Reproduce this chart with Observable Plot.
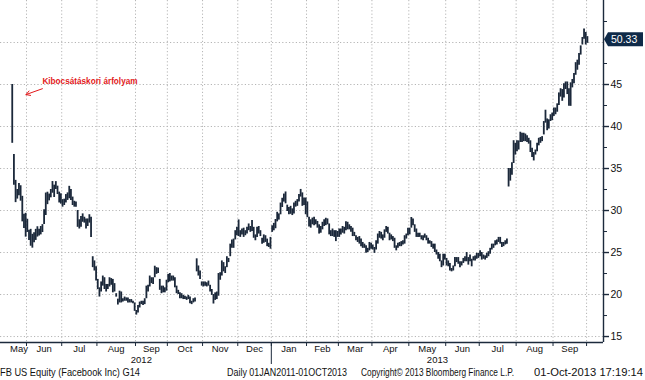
<!DOCTYPE html>
<html><head><meta charset="utf-8">
<script src="https://cdn.jsdelivr.net/npm/d3@7"></script>
<script src="https://cdn.jsdelivr.net/npm/@observablehq/plot@0.6"></script>
<style>
body{margin:0;background:#fff;width:645px;height:380px;overflow:hidden;font-family:"Liberation Sans",Arial,sans-serif}
#footer{position:relative;height:16px;font-size:10.5px;color:#111}
#footer span{position:absolute;top:2px;white-space:nowrap;transform-origin:0 0}
</style></head><body>
<div id="chart"></div>
<div id="footer">
<span data-w="140" style="left:0">FB US Equity (Facebook Inc) G14</span>
<span data-w="120" style="left:227px">Daily 01JAN2011-01OCT2013</span>
<span data-w="153" style="left:361px">Copyright© 2013 Bloomberg Finance L.P.</span>
<span data-w="109" style="left:534px">01-Oct-2013 17:19:14</span>
</div>
<script>
// Months shown and number of trading days in each (first = 18 May 2012 IPO)
const monthLabels = ["May","Jun","Jul","Aug","Sep","Oct","Nov","Dec","Jan","Feb","Mar","Apr","May","Jun","Jul","Aug","Sep",""];
const monthDays   = [9,21,21,23,19,21,21,20,21,19,20,22,22,20,22,22,20,1];
const yearLabels  = ["2012","2013"];
const yearMonths  = [8,10]; // months of 2012 shown, months of 2013 shown
const yTicks = [15,20,25,30,35,40,45];
const yGrid = [15,20,25,30,35,40,45,50];
const yMinor = [17.5,22.5,27.5,32.5,37.5,42.5,47.5,52.5];
const lastPrice = 50.33;
const annotationText = "Kibocsátáskori árfolyam";

// daily lows / highs (USD), one per trading day
const lows = [
 38.00,33.00,30.94,31.36,31.77,31.11,28.65,27.86,26.83,
 27.39,26.44,25.75,25.52,26.15,26.44,26.84,26.96,27.10,27.38,28.35,29.41,30.70,31.15,31.51,32.06,31.55,32.50,31.90,30.90,30.76,
 30.40,30.60,30.90,31.20,31.40,31.20,30.60,30.40,30.40,28.00,27.80,28.00,28.60,28.50,27.80,28.10,28.50,26.80,23.20,22.80,21.60,
 20.60,19.70,20.30,21.00,20.60,20.30,20.60,20.90,21.10,20.20,20.30,19.69,18.75,19.00,19.00,19.10,19.20,19.20,19.00,19.00,19.00,18.90,18.00,
 17.55,17.80,18.40,18.80,18.70,18.80,19.50,20.30,20.90,21.30,21.20,22.00,22.40,22.50,20.50,20.10,20.20,20.20,20.40,
 21.40,21.50,21.60,21.60,20.80,20.10,20.00,19.50,19.50,19.40,19.40,19.30,19.40,18.90,18.80,19.00,19.10,22.70,22.20,21.80,21.00,
 20.90,21.00,20.90,21.00,20.30,19.90,18.87,19.30,19.40,19.80,21.70,22.20,22.70,22.50,23.20,23.80,24.50,25.50,25.50,26.50,27.00,
 26.90,26.80,27.10,26.80,27.00,27.20,27.60,27.40,27.50,26.70,26.40,26.80,27.20,26.90,26.00,26.10,26.20,25.70,25.60,25.40,
 27.40,27.59,27.83,28.65,28.86,29.49,30.36,31.00,30.80,29.88,29.50,29.55,29.40,29.60,30.40,30.50,31.00,31.60,30.50,30.60,29.50,
 29.15,28.05,27.90,28.30,28.20,28.30,27.90,27.20,27.30,27.70,28.10,28.20,28.30,27.10,26.90,26.90,26.80,26.30,26.80,
 26.80,27.10,27.30,27.20,27.60,27.70,27.70,27.40,26.90,26.90,26.40,26.20,26.00,25.70,25.50,25.50,24.90,25.00,25.20,25.40,
 25.30,24.90,25.30,26.00,26.70,26.60,26.40,26.70,27.40,27.20,26.40,26.50,26.30,25.50,25.20,25.50,25.70,25.70,25.90,26.00,26.60,27.00,
 27.10,27.90,28.20,27.40,26.80,26.80,26.80,26.50,26.40,26.70,26.40,26.00,26.00,25.60,25.40,25.00,24.70,24.20,23.90,23.20,23.40,24.10,
 23.40,23.30,22.80,22.70,22.80,23.30,23.80,23.60,23.20,23.40,23.70,23.90,23.90,23.50,23.90,23.30,24.00,24.00,24.20,24.30,
 24.50,24.10,24.20,24.10,24.30,24.50,24.80,25.30,25.50,25.80,25.90,26.20,26.00,25.60,25.70,25.90,26.00,32.80,33.50,34.20,35.60,36.60,
 37.00,37.20,38.10,38.10,38.20,38.20,38.10,37.90,36.90,36.30,35.90,36.60,37.00,37.70,38.00,38.20,39.00,40.40,39.50,39.70,40.60,40.70,
 41.20,41.40,41.70,42.50,43.50,43.00,43.40,44.40,43.80,42.40,42.40,44.60,45.10,46.10,46.70,47.30,48.50,49.70,50.40,49.70,
 49.90
];
const highs = [
 45.00,36.66,33.59,32.50,33.21,32.95,31.69,29.55,29.67,
 28.96,27.65,27.76,27.17,27.35,27.76,28.07,27.77,28.10,28.32,30.10,32.08,32.18,31.96,32.50,33.45,33.02,33.44,32.90,32.19,31.99,
 31.30,31.35,31.90,32.10,32.88,32.50,31.60,31.10,31.00,30.00,28.90,29.30,29.60,29.20,29.00,29.00,29.50,29.20,24.50,24.00,23.30,
 21.80,20.80,21.50,22.20,22.00,21.20,21.20,22.00,21.90,21.80,21.30,20.10,19.45,20.40,20.30,19.50,19.70,19.60,19.60,19.40,19.40,19.20,19.00,
 18.10,18.70,19.10,19.20,19.20,19.50,21.00,21.10,22.20,22.00,22.00,23.37,23.20,23.15,21.80,21.00,21.00,20.80,21.70,
 22.40,22.50,22.20,22.20,22.00,21.00,20.50,20.20,20.10,19.90,19.80,19.70,19.90,19.70,19.20,19.50,19.60,24.25,23.40,22.80,21.50,
 21.50,21.50,21.40,21.60,21.10,20.60,20.00,20.20,20.30,22.50,22.60,24.00,23.80,23.30,24.50,24.30,26.00,26.50,26.60,27.60,28.00,
 28.88,27.60,27.80,27.90,27.60,28.00,28.40,28.10,28.80,28.00,27.10,28.00,28.10,27.60,26.70,27.10,27.00,26.60,26.10,26.80,
 28.18,28.47,28.93,29.79,29.60,30.89,31.46,31.96,32.21,30.64,30.35,30.50,30.20,30.90,31.10,31.30,31.90,32.51,32.10,31.50,31.49,
 31.02,29.20,28.90,29.10,29.20,28.90,28.70,28.30,28.10,28.60,28.90,29.08,29.00,28.40,27.60,27.80,27.60,27.60,27.50,
 27.80,27.80,28.10,28.00,28.67,28.60,28.30,28.10,27.90,27.40,27.00,26.80,26.90,26.60,26.20,26.00,25.80,25.50,26.20,26.10,
 25.90,25.60,26.40,27.20,27.50,27.40,27.10,27.70,28.10,28.00,27.30,27.10,26.90,26.70,25.80,26.10,26.20,26.30,26.40,27.00,27.20,27.90,
 27.90,29.17,29.00,28.30,27.80,27.30,27.30,27.00,27.00,27.20,27.00,26.70,26.40,26.30,26.00,26.00,25.30,25.00,24.80,24.00,24.80,24.80,
 24.30,24.00,23.70,23.10,23.40,24.40,24.40,24.40,23.90,23.90,24.30,24.50,25.00,24.40,24.70,24.20,24.50,24.60,24.90,24.90,
 25.20,25.00,24.70,24.60,24.90,25.10,25.50,26.00,26.00,26.40,26.50,26.80,26.80,26.20,26.20,26.40,26.60,35.00,35.00,35.70,38.31,38.00,
 38.30,38.29,39.32,39.20,39.20,39.10,38.90,38.60,38.30,37.40,36.90,37.20,38.00,38.60,38.70,38.80,40.59,41.94,40.90,40.80,41.40,41.60,
 42.20,42.20,42.70,44.00,44.50,44.40,45.09,45.30,45.30,44.50,45.20,45.60,46.30,47.60,47.90,48.70,49.60,50.60,51.60,51.20,
 50.70
];

// layout
const W = 645, H = 364;
const xDomain = [-7, 352.6];
const yDomain = [14.29, 55];
const FONT = "Liberation Sans, Arial, sans-serif";

const days = d3.range(lows.length);
let acc = 0; const bounds = []; const centres = [];
monthDays.forEach((n, i) => { if (i > 0) bounds.push(acc - 0.5); centres.push(acc - 0.5 + n / 2); acc += n; });
const monthText = centres.map((c, i) => ({x: c, label: monthLabels[i]})).filter(d => d.label);
const yearBoundary = bounds[yearMonths[0] - 1];
const years = [
  {x: (-0.5 + yearBoundary) / 2, label: yearLabels[0]},
  {x: (yearBoundary + xDomain[1]) / 2, label: yearLabels[1]}
];
const grid = {stroke: "#b5b5b5", strokeDasharray: "1.2,2.2", strokeWidth: 1};
const axisColor = "#1c2a3c";

const plot = Plot.plot({
  width: W, height: H,
  marginLeft: 0, marginRight: 42, marginTop: 0, marginBottom: 22,
  x: {type: "linear", domain: xDomain, axis: null},
  y: {domain: yDomain, axis: null},
  style: {background: "#fff", fontFamily: FONT, color: "#111"},
  marks: [
    Plot.ruleY(yGrid, grid),
    Plot.ruleX(bounds, grid),
    Plot.ruleX(days, {x: d => d, y1: d => lows[d], y2: d => highs[d], stroke: "#1b283a", strokeWidth: 1.8}),
    Plot.text([annotationText], {x: [18], y: [45.4], text: d => d, textAnchor: "start", fill: "#e3191b", fontWeight: "bold", fontSize: 8.2, fontFamily: FONT}),
    Plot.arrow([0], {x1: [18], y1: [44.5], x2: [8.2], y2: [43.8], stroke: "#e3191b", strokeWidth: 1, headLength: 7, bend: false}),
    // axes
    Plot.ruleX([xDomain[1]], {stroke: axisColor, strokeWidth: 1.4}),
    Plot.ruleY([yDomain[0]], {stroke: axisColor, strokeWidth: 1.4}),
    Plot.axisY({anchor: "right", ticks: yTicks, tickSize: 5, tickPadding: 2, fontSize: 10.5, label: null, stroke: axisColor, strokeWidth: 1.4}),
    Plot.axisY({anchor: "right", ticks: yMinor, tickSize: 3, tickFormat: () => "", label: null, stroke: axisColor}),
    Plot.axisX({ticks: bounds, tickSize: 4, tickFormat: () => "", label: null, stroke: axisColor}),
    Plot.axisX({ticks: [yearBoundary], tickSize: 22, tickFormat: () => "", label: null, stroke: axisColor}),
    Plot.text(monthText, {x: "x", text: "label", frameAnchor: "bottom", dy: 9, fontSize: 9.5, fill: "#111"}),
    Plot.text(years, {x: "x", text: "label", frameAnchor: "bottom", dy: 20, fontSize: 9.5, fill: "#111"})
  ]
});
document.getElementById("chart").appendChild(plot);

// last-price tag on the right axis
const yPix = plot.scale("y").apply(lastPrice);
const xr = W - 42;
const svg = d3.select(plot);
svg.append("path")
  .attr("d", `M${xr+1},${yPix} L${xr+5},${yPix-7} L${W-2},${yPix-7} L${W-2},${yPix+7} L${xr+5},${yPix+7} Z`)
  .attr("fill", "#0f2a48");
svg.append("text").attr("x", xr + 8).attr("y", yPix).attr("dy", "0.35em")
  .attr("text-anchor", "start")
  .attr("fill", "#fff").attr("font-size", 10.5).attr("font-family", FONT)
  .text(lastPrice.toFixed(2));

// fit footer texts to the widths they take in the reference
document.querySelectorAll("#footer span").forEach(s => {
  const w = s.getBoundingClientRect().width;
  s.style.transform = `scaleX(${(+s.dataset.w / w).toFixed(3)})`;
});
</script>
</body></html>
